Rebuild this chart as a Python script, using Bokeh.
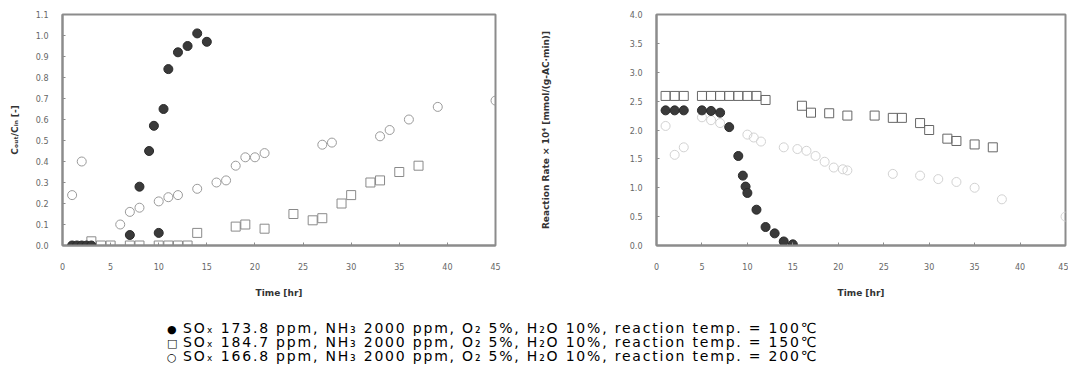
from bokeh.plotting import figure
from bokeh.layouts import column, row
from bokeh.models import Div, FixedTicker, Range1d, NumeralTickFormatter
from bokeh.embed import file_html
from bokeh.resources import INLINE

# ---------------- data: left chart (Cout/Cin) ----------------
l100_x = [1, 1.5, 2, 2.5, 3, 7, 8, 9, 9.5, 10, 10.5, 11, 12, 13, 14, 15]
l100_y = [0, 0, 0, 0, 0, 0.05, 0.28, 0.45, 0.57, 0.06, 0.65, 0.84, 0.92, 0.95, 1.01, 0.97]

l150_x = [3, 4, 5, 7, 8, 10, 11, 12, 13, 14, 18, 19, 21, 24, 26, 27, 29, 30, 32, 33, 35, 37]
l150_y = [0.02, 0, 0, 0, 0, 0, 0, 0, 0, 0.06, 0.09, 0.10, 0.08, 0.15, 0.12, 0.13, 0.20, 0.24,
          0.30, 0.31, 0.35, 0.38]

l200_x = [1, 2, 6, 7, 8, 10, 11, 12, 14, 16, 17, 18, 19, 20, 21, 27, 28, 33, 34, 36, 39, 45]
l200_y = [0.24, 0.40, 0.10, 0.16, 0.18, 0.21, 0.23, 0.24, 0.27, 0.30, 0.31, 0.38, 0.42, 0.42,
          0.44, 0.48, 0.49, 0.52, 0.55, 0.60, 0.66, 0.69]

# ---------------- data: right chart (reaction rate) ----------------
r100_x = [1, 2, 3, 5, 6, 7, 8, 9, 9.5, 9.8, 10, 11, 12, 13, 14, 15]
r100_y = [2.34, 2.34, 2.34, 2.34, 2.33, 2.30, 2.05, 1.55, 1.21, 1.02, 0.91, 0.62, 0.32, 0.21,
          0.07, 0.02]

r150_x = [1, 2, 3, 5, 6, 7, 8, 9, 10, 11, 12, 16, 17, 19, 21, 24, 26, 27, 29, 30, 32, 33, 35, 37]
r150_y = [2.59, 2.59, 2.59, 2.59, 2.59, 2.59, 2.59, 2.59, 2.59, 2.59, 2.52, 2.42, 2.30, 2.29,
          2.25, 2.25, 2.21, 2.21, 2.12, 2.00, 1.85, 1.81, 1.75, 1.70]

r200_x = [1, 2, 3, 5, 6, 7, 10, 10.7, 11.5, 14, 15.5, 16.5, 17.5, 18.5, 19.5, 20.5, 21,
          26, 29, 31, 33, 35, 38, 45]
r200_y = [2.07, 1.57, 1.70, 2.22, 2.17, 2.12, 1.92, 1.87, 1.80, 1.70, 1.67, 1.64, 1.55, 1.45,
          1.35, 1.32, 1.30, 1.24, 1.21, 1.15, 1.10, 1.00, 0.80, 0.50]

x_ticks = [0, 5, 10, 15, 20, 25, 30, 35, 40, 45]
left_y_ticks = [0.0, 0.1, 0.2, 0.3, 0.4, 0.5, 0.6, 0.7, 0.8, 0.9, 1.0, 1.1]
right_y_ticks = [0.0, 0.5, 1.0, 1.5, 2.0, 2.5, 3.0, 3.5, 4.0]

legend_lines = [
    ("●", "SOₓ 173.8 ppm, NH₃ 2000 ppm, O₂ 5%, H₂O 10%, reaction temp. = 100℃"),
    ("□", "SOₓ 184.7 ppm, NH₃ 2000 ppm, O₂ 5%, H₂O 10%, reaction temp. = 150℃"),
    ("○", "SOₓ 166.8 ppm, NH₃ 2000 ppm, O₂ 5%, H₂O 10%, reaction temp. = 200℃"),
]

FONT = "DejaVu Sans"
AX = "#8c8c8c"


def style(p, yticks, yfmt, ylabel, ystand):
    p.xaxis.ticker = FixedTicker(ticks=x_ticks)
    p.yaxis.ticker = FixedTicker(ticks=yticks)
    p.yaxis.formatter = NumeralTickFormatter(format=yfmt)
    p.xaxis.axis_label = "Time [hr]"
    p.yaxis.axis_label = ylabel
    for ax in (p.xaxis, p.yaxis):
        ax.axis_line_color = AX
        ax.axis_line_width = 2
        ax.major_tick_line_color = AX
        ax.major_tick_in = 3
        ax.major_tick_out = 0
        ax.minor_tick_line_color = None
        ax.major_label_text_font = FONT
        ax.major_label_text_font_size = "8px"
        ax.major_label_text_color = "#666666"
        ax.axis_label_text_font = FONT
        ax.axis_label_text_font_size = "9px"
        ax.axis_label_text_font_style = "bold"
        ax.axis_label_text_color = "#333333"
    p.xaxis.major_label_standoff = 17
    p.xaxis.axis_label_standoff = 15
    p.yaxis.major_label_standoff = 14
    p.yaxis.axis_label_standoff = ystand
    p.xgrid.grid_line_color = None
    p.ygrid.grid_line_color = None
    p.outline_line_color = AX
    p.outline_line_width = 2
    p.outline_line_alpha = 1.0
    p.background_fill_color = "white"
    p.border_fill_color = "white"


# ---------------- left figure ----------------
p1 = figure(width=537, height=300, output_backend="svg", toolbar_location=None,
            x_range=Range1d(0, 45), y_range=Range1d(0, 1.1),
            min_border_left=62, min_border_right=42, min_border_top=14, min_border_bottom=46)
style(p1, left_y_ticks, "0.0", "Cₒᵤₜ/Cᵢₙ [-]", 13)
p1.scatter(l150_x, l150_y, marker="square", size=9, fill_color=None,
           line_color="#8a8a8a", line_width=1)
p1.scatter(l200_x, l200_y, marker="circle", size=9, fill_color=None,
           line_color="#9a9a9a", line_width=1)
p1.scatter(l100_x, l100_y, marker="circle", size=9, fill_color="#3a3a3a",
           line_color="#2a2a2a", line_width=1)

# ---------------- right figure ----------------
p2 = figure(width=531, height=300, output_backend="svg", toolbar_location=None,
            x_range=Range1d(0, 45), y_range=Range1d(0, 4.0),
            min_border_left=118, min_border_right=3, min_border_top=14, min_border_bottom=46)
style(p2, right_y_ticks, "0.0", "Reaction Rate × 10⁴ [mmol/(g-AC·min)]", 76)
p2.scatter(r200_x, r200_y, marker="circle", size=9, fill_color=None,
           line_color="#d2d2d2", line_width=1)
p2.scatter(r150_x, r150_y, marker="square", size=9, fill_color=None,
           line_color="#666666", line_width=1)
p2.scatter(r100_x, r100_y, marker="circle", size=9, fill_color="#3a3a3a",
           line_color="#2a2a2a", line_width=1)

# ---------------- legend text ----------------
rows_html = "".join(
    f'<div style="white-space:nowrap;height:14px;line-height:14px;">'
    f'<span style="display:inline-block;width:16px;font-size:11px;letter-spacing:0;">{m}</span>'
    f'{t}</div>'
    for m, t in legend_lines
)
legend = Div(
    text=f'<div style="padding-left:167px;padding-top:21px;font-family:\'DejaVu Sans\';'
         f'font-size:14px;color:#000;letter-spacing:1.8px;">{rows_html}</div>',
    width=1068, height=78, margin=(0, 0, 0, 0))

layout = column(row(p1, p2, spacing=0), legend, spacing=0)

open("out.html", "w").write(file_html(layout, INLINE))
